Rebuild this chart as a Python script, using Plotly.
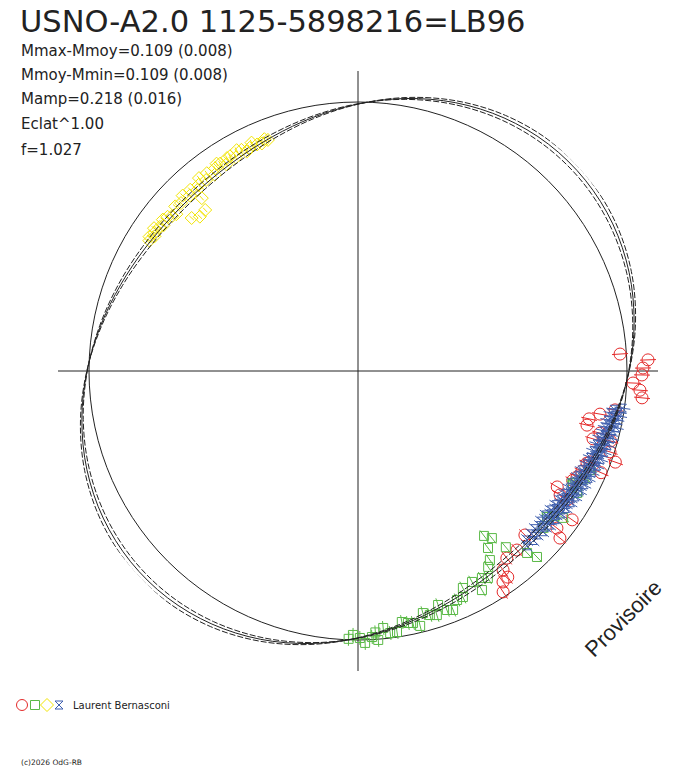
import plotly.graph_objects as go

# ---------------- data (phase angle in degrees, radius in plot units; mean circle = 269) ----------------
mean_radius = 269

fit_theta = [0, 10, 20, 30, 40, 50, 60, 70, 80, 90, 100, 110, 120, 130, 140, 150, 160, 170,
             180, 190, 200, 210, 220, 230, 240, 250, 260, 270, 280, 290, 300, 310, 320, 330, 340, 350, 360]
fit_r_half = [271.0, 280.4, 288.5, 294.2, 296.8, 296.2, 292.2, 285.5, 276.7,
              267.0, 257.6, 249.5, 243.8, 241.2, 241.8, 245.8, 252.5, 261.3]
fit_up_half = [271.2, 281.8, 290.9, 297.3, 300.3, 299.6, 295.1, 287.5, 277.7,
               266.8, 256.2, 247.1, 240.7, 237.7, 238.4, 242.9, 250.5, 260.3]
fit_lo_half = [270.7, 279.0, 286.0, 291.0, 293.4, 292.8, 289.3, 283.4, 275.8,
               267.3, 259.0, 252.0, 247.0, 244.6, 245.2, 248.7, 254.6, 262.2]
fit_r = fit_r_half * 2 + fit_r_half[:1]
fit_up = fit_up_half * 2 + fit_up_half[:1]
fit_lo = fit_lo_half * 2 + fit_lo_half[:1]

red_theta = [3.7, 2.2, 0.6, -0.8, -2.5, -3.9, -5.4, -8.6, -10.1, -11.7, -13.3, -14.4, -16.1,
             -17.8, -19.5, -21.4, -24.1, -22.7, -25.8, -30.2, -21.9, -31.5, -34.8, -39.6,
             -38.3, -44.5, -48.4, -51.5, -53.9, -54.0, -55.5, -56.7, -31.7, -27.0, -15.5]
red_r = [262.6, 290.2, 285.0, 284.0, 275.3, 282.6, 285.3, 260.0, 245.8, 236.0, 235.3, 249.8, 244.6,
         264.7, 273.0, 249.2, 245.3, 263.5, 243.3, 230.5, 246.8, 237.0, 260.8, 262.1,
         253.5, 234.0, 239.4, 239.1, 246.2, 254.8, 256.0, 264.3, 245.6, 241.0, 262.0]
red_err = 8

green_theta = [-91.1, -89.6, -88.5, -87.0, -85.7, -84.4, -83.0, -81.5, -80.1, -78.8, -77.7, -76.3,
               -75.0, -73.6, -72.1, -71.1, -69.6, -68.3, -66.6, -64.2, -61.6, -65.1, -60.5, -59.1,
               -57.9, -56.4, -55.1, -53.7, -52.6, -51.3, -50.0, -47.1, -46.1, -40.3, -37.7, -36.5,
               -35.6, -29.1, -27.5, -23.1, -27.9, -25.5, -92.0, -86.2]
green_r = [264.0, 267.0, 272.0, 266.4, 269.7, 258.2, 264.0, 263.9, 254.8, 256.9, 257.9, 262.4,
           250.6, 254.4, 256.5, 247.3, 255.0, 257.2, 249.5, 241.0, 239.8, 249.2, 251.7, 241.3,
           244.4, 235.2, 230.5, 219.6, 207.6, 214.1, 230.0, 248.4, 258.1, 242.6, 238.8, 244.0,
           252.3, 250.7, 242.4, 252.2, 243.0, 250.0, 268.0, 262.0]
green_err = 7

yellow_theta = [148.0, 147.2, 146.5, 145.8, 145.0, 144.0, 143.2, 142.2, 141.0, 140.2, 139.2, 138.0,
                137.4, 135.7, 133.5, 132.1, 136.5, 135.0, 133.8, 132.8, 131.5, 130.6, 129.5, 128.5,
                127.4, 126.1, 125.2, 124.3, 123.6, 122.5, 121.6, 120.8, 119.8, 118.8, 117.8, 116.9,
                115.9, 115.0, 114.0, 112.9, 112.0, 111.3]
yellow_r = [246, 248, 244, 246, 249, 245, 243, 247, 245, 242, 240, 246,
            226, 221, 222, 233, 244, 248, 243, 247, 242, 245, 250, 244,
            249, 243, 248, 251, 249, 245, 250, 250, 246, 252, 250, 246,
            248, 252, 248, 247, 250, 248]
yellow_err = 3

blue_theta = [-8.0, -8.5, -9.0, -9.4, -9.8, -10.3, -10.7, -11.1, -11.5, -12.0, -12.4, -12.8, -13.2,
              -13.7, -14.1, -14.5, -14.9, -15.3, -15.8, -16.2, -16.6, -17.0, -17.4, -17.9, -18.3,
              -18.7, -19.1, -19.6, -20.0, -20.4, -20.8, -21.2, -21.7, -22.1, -22.5, -22.9, -23.4,
              -23.8, -24.2, -24.6, -25.0, -25.5, -25.9, -26.3, -26.7, -27.2, -27.6, -28.0, -28.4,
              -28.9, -29.3, -29.7, -30.1, -30.6, -31.0, -31.4, -31.8, -32.3, -32.7, -33.1, -33.5,
              -34.0, -34.4, -34.8, -35.2, -35.7, -36.1, -36.5, -37.0, -37.4, -37.8, -38.3, -38.8,
              -39.3, -39.8, -40.3, -41.0, -41.7, -42.4, -43.2, -44.0, -45.0, -46.0]
blue_r = [267, 259, 264, 257, 265, 258, 263, 255, 262, 256, 264, 254, 261,
          253, 260, 255, 262, 251, 258, 253, 260, 250, 257, 252, 259,
          249, 256, 251, 258, 248, 255, 250, 257, 247, 254, 249, 255,
          245, 252, 247, 254, 244, 251, 246, 253, 243, 250, 245, 252,
          242, 249, 244, 251, 241, 248, 243, 250, 240, 247, 242, 249,
          239, 246, 241, 248, 238, 245, 240, 247, 237, 244, 239, 246,
          237, 244, 239, 245, 237, 243, 238, 244, 239, 243]
blue_err = 8

title_text = "USNO-A2.0 1125-5898216=LB96"
stats_lines = ["Mmax-Mmoy=0.109 (0.008)", "Mmoy-Mmin=0.109 (0.008)", "Mamp=0.218 (0.016)",
               "Eclat^1.00", "f=1.027"]
observer = "Laurent Bernasconi"
copyright_text = "(c)2026 OdG-RB"
watermark = "Provisoire"

# ---------------- styles ----------------
W, H = 688, 768
CX, CY, RPX = 358, 371, 300
FONT = "DejaVu Sans"
INK = "#222222"
RED, GREEN, YELLOW, BLUE = "#e42a2a", "#5ab946", "#f2e400", "#3f5fae"

fig = go.Figure()


def err_segments(th, rr, e):
    t_out, r_out = [], []
    for t, r in zip(th, rr):
        t_out += [t, t, None]
        r_out += [r - e, r + e, None]
    return t_out, r_out


# mean circle
circle_theta = list(range(0, 361, 3))
fig.add_trace(go.Scatterpolar(theta=circle_theta, r=[mean_radius] * len(circle_theta), mode="lines",
                              line=dict(color=INK, width=1), hoverinfo="skip"))

series = [
    (red_theta, red_r, red_err, RED, "circle-open", 12),
    (green_theta, green_r, green_err, GREEN, "square-open", 9),
    (yellow_theta, yellow_r, yellow_err, YELLOW, "diamond-open", 10),
    (blue_theta, blue_r, blue_err, BLUE, "hourglass-open", 8),
]
for th, rr, e, col, sym, sz in series:
    et, er = err_segments(th, rr, e)
    fig.add_trace(go.Scatterpolar(theta=et, r=er, mode="lines", line=dict(color=col, width=1),
                                  connectgaps=False, hoverinfo="skip"))
    fig.add_trace(go.Scatterpolar(theta=th, r=rr, mode="markers",
                                  marker=dict(symbol=sym, size=sz, color=col, line=dict(color=col, width=1))))

# fitted curve and its +/- sigma envelopes
for rr, dash in [(fit_up, "6px,2px"), (fit_lo, "6px,2px"), (fit_r, "solid")]:
    fig.add_trace(go.Scatterpolar(theta=fit_theta, r=rr, mode="lines",
                                  line=dict(color=INK, width=1, dash=dash, shape="spline", smoothing=1),
                                  cliponaxis=False, hoverinfo="skip"))

# legend glyphs (overlay cartesian in pixel coords)
leg_x = [22, 35, 47, 59]
for x, (col, sym, sz) in zip(leg_x, [(RED, "circle-open", 11), (GREEN, "square-open", 9),
                                     (YELLOW, "diamond-open", 10), (BLUE, "hourglass-open", 8)]):
    fig.add_trace(go.Scatter(x=[x], y=[705], mode="markers", xaxis="x", yaxis="y",
                             marker=dict(symbol=sym, size=sz, color=col, line=dict(color=col, width=1)),
                             hoverinfo="skip"))

ann = []
ann.append(dict(text=title_text, x=18 / W, y=1 - 21 / H, font=dict(size=30.5, color=INK, family=FONT)))
for i, s in enumerate(stats_lines):
    yy = [51, 75, 99, 124, 150][i]
    ann.append(dict(text=s, x=19 / W, y=1 - yy / H, font=dict(size=15, color=INK, family=FONT)))
ann.append(dict(text=observer, x=71 / W, y=1 - 705 / H, font=dict(size=10, color=INK, family=FONT)))
ann.append(dict(text=copyright_text, x=19 / W, y=1 - 762 / H, font=dict(size=7.5, color=INK, family=FONT)))
for a in ann:
    a.update(xref="paper", yref="paper", xanchor="left", yanchor="middle", showarrow=False)
ann.append(dict(text=watermark, x=623 / W, y=1 - 618 / H, xref="paper", yref="paper", xanchor="center",
                yanchor="middle", showarrow=False, textangle=-45,
                font=dict(size=22, color=INK, family="Liberation Sans")))

fig.update_layout(
    width=W, height=H, margin=dict(l=0, r=0, t=0, b=0),
    paper_bgcolor="white", plot_bgcolor="rgba(0,0,0,0)", showlegend=False,
    annotations=ann,
    xaxis=dict(domain=[0, 1], range=[0, W], visible=False, fixedrange=True),
    yaxis=dict(domain=[0, 1], range=[H, 0], visible=False, fixedrange=True),
    polar=dict(
        domain=dict(x=[(CX - RPX) / W, (CX + RPX) / W], y=[(H - CY - RPX) / H, (H - CY + RPX) / H]),
        bgcolor="white",
        radialaxis=dict(visible=False, range=[0, 300]),
        angularaxis=dict(tickvals=[0, 90, 180, 270], showgrid=True, gridcolor=INK, gridwidth=1,
                         showline=False, ticks="", showticklabels=False, rotation=0,
                         direction="counterclockwise"),
    ),
)

fig.write_html("out.html", config={"displayModeBar": False},
               post_script="document.body.style.margin='0px';")
